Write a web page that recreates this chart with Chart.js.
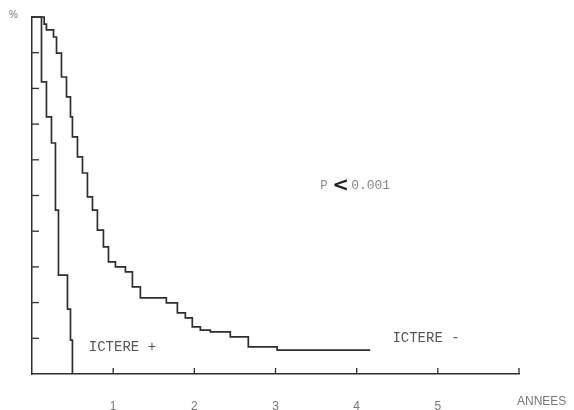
<!DOCTYPE html>
<html>
<head>
<meta charset="utf-8">
<script src="https://cdn.jsdelivr.net/npm/chart.js@4/dist/chart.umd.min.js"></script>
<style>
html,body{margin:0;background:#fff}
#wrap{width:574px;height:410px}
</style>
</head>
<body>
<div id="wrap"><canvas id="myChart"></canvas></div>
<script>
// tick labels on the year axis
var yearTicks = [1, 2, 3, 4, 5];
var pctTicks = [10, 20, 30, 40, 50, 60, 70, 80, 90];

// ICTERE + (survival %, step after each year value)
var plusYears = [0, 0.117, 0.178, 0.24, 0.289, 0.326, 0.437, 0.474, 0.498];
var plusPct   = [100, 81.8, 72.0, 64.7, 45.9, 27.7, 18.2, 9.5, 0];

// ICTERE -
var minusYears = [0, 0.15, 0.178, 0.265, 0.302, 0.363, 0.425, 0.474, 0.498, 0.56, 0.622,
                  0.683, 0.745, 0.806, 0.88, 0.942, 1.028, 1.151, 1.237, 1.335, 1.655,
                  1.791, 1.889, 1.975, 2.074, 2.197, 2.443, 2.665, 3.02, 4.166];
var minusPct   = [100, 98, 96.4, 94.4, 89.9, 83.2, 77.6, 72.0, 66.4, 60.8, 56.3,
                  49.6, 45.9, 40.3, 35.6, 31.4, 30.0, 28.6, 24.4, 21.3, 19.9,
                  17.1, 15.7, 13.2, 12.3, 11.8, 10.4, 7.6, 6.7, 6.7];

function pts(xs, ys){
  return xs.map(function(x, i){ return {x: x, y: ys[i]}; });
}

var inkColor = "#2e2e2e";

var decor = {
  id: "decor",
  afterDraw: function(chart){
    var ctx = chart.ctx;
    var xs = chart.scales.x, ys = chart.scales.y;
    var left = xs.left, bottom = ys.bottom;
    ctx.save();
    ctx.strokeStyle = inkColor;
    ctx.lineWidth = 1.3;
    // inward ticks on the % axis
    pctTicks.forEach(function(v){
      var py = ys.getPixelForValue(v);
      ctx.beginPath(); ctx.moveTo(left, py); ctx.lineTo(left + 7, py); ctx.stroke();
    });
    // upward ticks on the year axis
    yearTicks.concat([6]).forEach(function(v){
      var px = xs.getPixelForValue(v);
      ctx.beginPath(); ctx.moveTo(px, bottom); ctx.lineTo(px, bottom - 6); ctx.stroke();
    });

    ctx.textBaseline = "middle";
    ctx.fillStyle = "#777";
    ctx.font = "10px 'Liberation Sans'";
    ctx.fillText("%", 9, 15);
    ctx.font = "12px 'Liberation Sans'";
    ctx.fillText("ANNEES", xs.right - 2, 402);

    ctx.font = "14px 'Liberation Mono'";
    ctx.fillStyle = "#555";
    ctx.fillText("ICTERE +", xs.getPixelForValue(0.7), ys.getPixelForValue(7.4));
    ctx.fillText("ICTERE -", xs.getPixelForValue(4.44), ys.getPixelForValue(10));

    // P < 0.001
    var px0 = xs.getPixelForValue(3.55), py0 = ys.getPixelForValue(52.7);
    ctx.font = "12px 'Liberation Mono'";
    ctx.fillStyle = "#888";
    ctx.fillText("P", px0, py0);
    ctx.font = "bold 20px 'DejaVu Sans'";
    ctx.fillStyle = "#222";
    ctx.fillText("<", px0 + 12, py0);
    ctx.font = "13px 'Liberation Mono'";
    ctx.fillStyle = "#888";
    ctx.fillText("0.001", px0 + 31, py0);
    ctx.restore();
  }
};

new Chart("myChart", {
  type: "line",
  data: {
    datasets: [{
      label: "ICTERE +",
      data: pts(plusYears, plusPct),
      borderColor: inkColor,
      borderWidth: 1.7,
      stepped: true,
      pointRadius: 0,
      clip: 6
    }, {
      label: "ICTERE -",
      data: pts(minusYears, minusPct),
      borderColor: inkColor,
      borderWidth: 1.7,
      stepped: true,
      pointRadius: 0,
      clip: 6
    }]
  },
  plugins: [decor],
  options: {
    responsive: true,
    maintainAspectRatio: false,
    animation: false,
    layout: { padding: { top: 17, right: 55, left: 0, bottom: 0 } },
    plugins: { legend: { display: false }, tooltip: { enabled: false } },
    scales: {
      x: {
        type: "linear",
        min: 0, max: 6,
        grid: { display: false },
        border: { display: true, color: inkColor, width: 1.4 },
        ticks: {
          stepSize: 1,
          padding: 17,
          color: "#777",
          font: { family: "Liberation Sans", size: 12 },
          maxRotation: 0,
          callback: function(v){ return yearTicks.indexOf(v) >= 0 ? String(v) : ""; }
        },
        afterFit: function(s){ s.height = 36; }
      },
      y: {
        min: 0, max: 100,
        grid: { display: false },
        border: { display: true, color: inkColor, width: 1.5 },
        ticks: { display: false },
        afterFit: function(s){ s.width = 32; }
      }
    }
  }
});
</script>
</body>
</html>
